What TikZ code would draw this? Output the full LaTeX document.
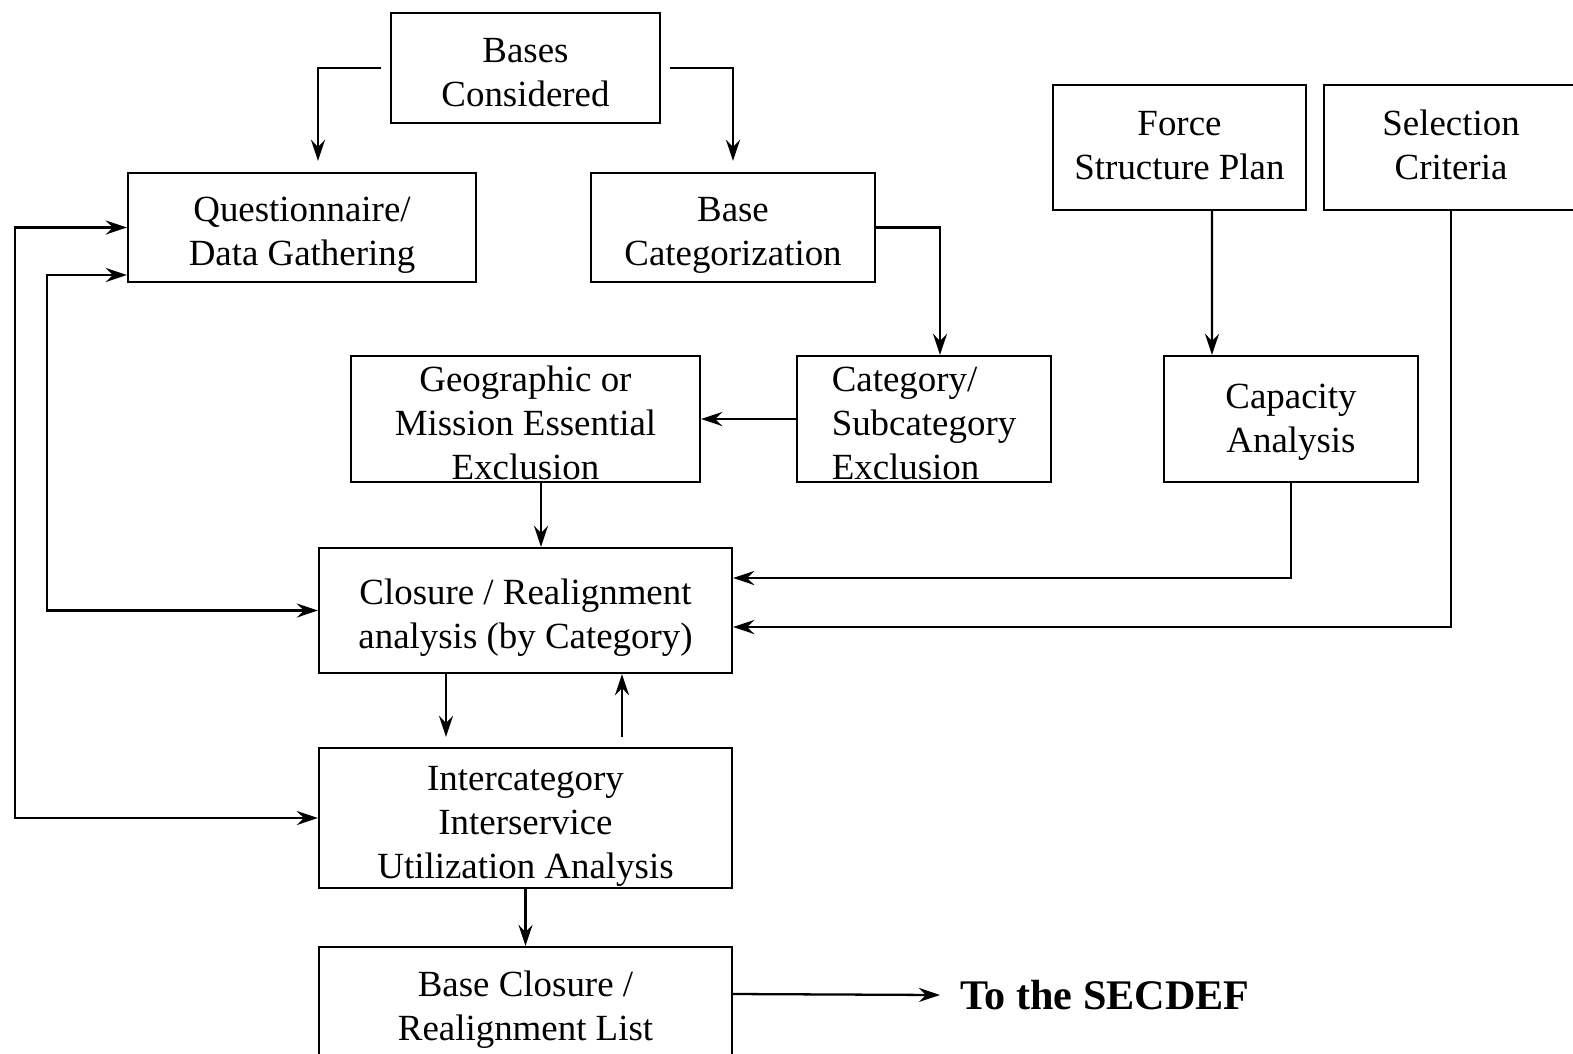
\documentclass[tikz,border=0pt]{standalone}
\usepackage{fontspec}
\setmainfont{Liberation Serif}
\usetikzlibrary{arrows.meta}
\newcommand{\hi}{\rule{0pt}{18.5pt}}
\tikzstyle{block} = [rectangle, draw, line width=1.3pt, inner sep=0pt,
    align=center, text depth=-0.12cm, font=\fontsize{21}{25}\selectfont]
\tikzstyle{line} = [draw, line width=1.3pt, -{Stealth[length=12pt, width=8pt, inset=4pt]}]
\tikzstyle{twoway} = [draw, line width=1.3pt,
    {Stealth[length=12pt, width=8pt, inset=4pt]}-{Stealth[length=12pt, width=8pt, inset=4pt]}]

\begin{document}
\begin{tikzpicture}[node distance = 2cm, auto]
            \useasboundingbox (0,0) rectangle (31.46,-21.06);
            \clip (0,0) rectangle (31.46,-21.06);
            % Place nodes
            \node [block, minimum width=5.38cm, minimum height=2.2cm] (bases) at (10.51,-1.36) {\hi Bases\\Considered};
            \node [block, minimum width=6.96cm, minimum height=2.18cm, text depth=-0.16cm] (quest) at (6.04,-4.55) {\hi Questionnaire/\\Data Gathering};
            \node [block, minimum width=5.68cm, minimum height=2.18cm, text depth=-0.16cm] (bcat) at (14.66,-4.55) {\hi Base\\Categorization};
            \node [block, minimum width=5.06cm, minimum height=2.5cm, text depth=0.08cm] (force) at (23.59,-2.95) {Force\\Structure Plan};
            \node [block, right of=force, node distance=5.43cm, minimum width=5.08cm, minimum height=2.5cm, text depth=0.12cm] (select) {Selection\\Criteria};
            \node [block, below of=bases, node distance=7.02cm, minimum width=6.98cm, minimum height=2.52cm] (geo) {\hi Geographic or\\Mission Essential\\Exclusion};
            \node [block, right of=geo, node distance=7.97cm, align=left, minimum width=5.08cm, minimum height=2.52cm] (catx) {\hi Category/\\Subcategory\\Exclusion};
            \node [block, right of=catx, node distance=7.34cm, minimum width=5.08cm, minimum height=2.52cm, text depth=0.04cm] (cap) {Capacity\\Analysis};
            \node [block, below of=geo, node distance=3.83cm, minimum width=8.26cm, minimum height=2.5cm] (closure) {\hi Closure / Realignment\\analysis (by Category)};
            \node [block, below of=closure, node distance=4.15cm, minimum width=8.26cm, minimum height=2.8cm] (inter) {\hi Intercategory\\Interservice\\Utilization Analysis};
            \node [block, below of=inter, node distance=3.68cm, minimum width=8.26cm, minimum height=2.2cm] (list) {\hi Base Closure /\\Realignment List};
            \node [anchor=west, inner sep=0pt, font=\fontsize{24}{28}\selectfont\bfseries] (secdef) at (19.2,-19.9) {To the SECDEF};
            \coordinate (loopa) at (0.3,-10);
            \coordinate (loopb) at (0.94,-10);
            % Draw edges
            \path [line, shorten <=0.18cm, shorten >=0.22cm] (bases.west) -| ([xshift=0.32cm]quest.north);
            \path [line, shorten <=0.18cm, shorten >=0.22cm] (bases.east) -| (bcat.north);
            \path [line] (bcat.east) -| ([xshift=0.32cm]catx.north);
            \path [line] (catx.west) -- (geo.east);
            \path [line] ([xshift=0.31cm]geo.south) -- ([xshift=0.31cm]closure.north);
            \path [line] ([xshift=0.65cm]force.south) -- ([xshift=-1.58cm]cap.north);
            \path [line] (cap.south) |- ([yshift=0.65cm]closure.east);
            \path [line] (select.south) |- ([yshift=-0.33cm]closure.east);
            \path [line, shorten >=0.2cm] ([xshift=-1.59cm]closure.south) -- ([xshift=-1.59cm]inter.north);
            \path [line, shorten <=0.2cm] ([xshift=1.93cm]inter.north) -- ([xshift=1.93cm]closure.south);
            \path [line] (inter.south) -- (list.north);
            \path [line] ([yshift=0.16cm]list.east) -- ([xshift=-0.4cm]secdef.west);
            \path [twoway] (quest.west) -| (loopa) |- (inter.west);
            \path [twoway] ([yshift=-0.95cm]quest.west) -| (loopb) |- (closure.west);
        \end{tikzpicture}
\end{document}
